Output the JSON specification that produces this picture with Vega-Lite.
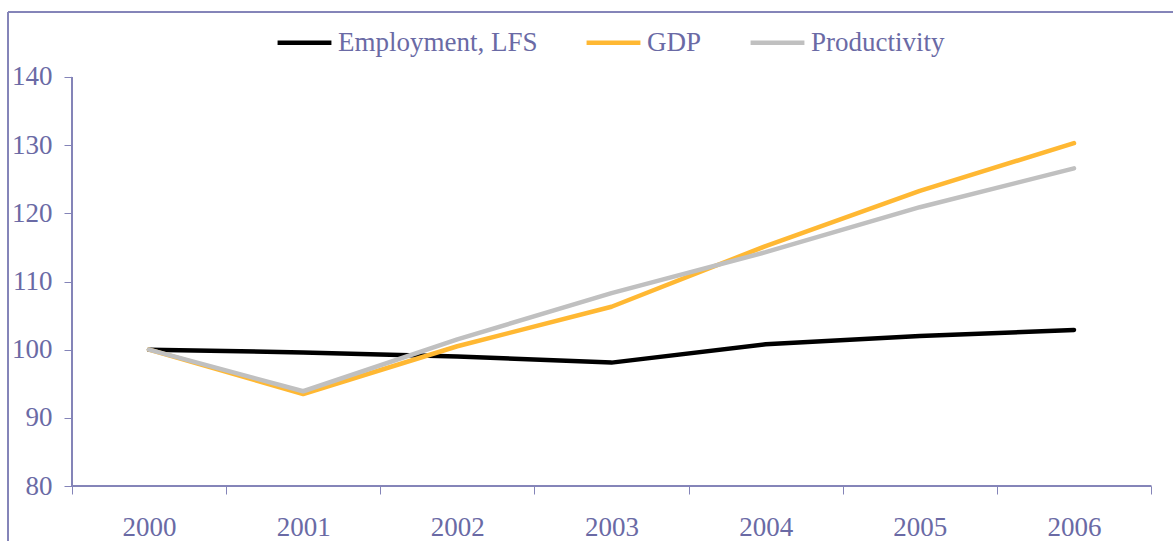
{
  "$schema": "https://vega.github.io/schema/vega-lite/v6.json",
  "width": 1165,
  "height": 529,
  "autosize": {"type": "none"},
  "padding": {"left": 8, "top": 12, "right": 0, "bottom": 0},
  "background": "white",
  "config": {
    "view": {"stroke": null},
    "font": "Liberation Serif",
    "axis": {"grid": false, "title": null}
  },
  "data": {
    "values": [
      {"year": 2000, "series": "Employment, LFS", "value": 100},
      {"year": 2001, "series": "Employment, LFS", "value": 99.6},
      {"year": 2002, "series": "Employment, LFS", "value": 99.0},
      {"year": 2003, "series": "Employment, LFS", "value": 98.1},
      {"year": 2004, "series": "Employment, LFS", "value": 100.8},
      {"year": 2005, "series": "Employment, LFS", "value": 102.0},
      {"year": 2006, "series": "Employment, LFS", "value": 102.9},
      {"year": 2000, "series": "GDP", "value": 100},
      {"year": 2001, "series": "GDP", "value": 93.5},
      {"year": 2002, "series": "GDP", "value": 100.5},
      {"year": 2003, "series": "GDP", "value": 106.3},
      {"year": 2004, "series": "GDP", "value": 115.2},
      {"year": 2005, "series": "GDP", "value": 123.3},
      {"year": 2006, "series": "GDP", "value": 130.3},
      {"year": 2000, "series": "Productivity", "value": 100},
      {"year": 2001, "series": "Productivity", "value": 93.9},
      {"year": 2002, "series": "Productivity", "value": 101.5},
      {"year": 2003, "series": "Productivity", "value": 108.3},
      {"year": 2004, "series": "Productivity", "value": 114.3},
      {"year": 2005, "series": "Productivity", "value": 120.9},
      {"year": 2006, "series": "Productivity", "value": 126.6}
    ]
  },
  "layer": [
    {
      "mark": {"type": "line", "strokeWidth": 4.5, "strokeCap": "round", "strokeJoin": "round"},
      "encoding": {
        "x": {
          "field": "year", "type": "quantitative",
          "scale": {"domain": [1999.0854, 2006.6422], "nice": false, "zero": false},
          "axis": {
            "orient": "bottom", "offset": -55,
            "values": [1999.5, 2000.5, 2001.5, 2002.5, 2003.5, 2004.5, 2005.5, 2006.5],
            "labelExpr": "datum.value < 2006 ? toString(datum.value + 0.5) : ''",
            "labelOffset": 77.08, "labelFlush": false, "labelOverlap": false,
            "domain": false, "tickSize": 8, "tickColor": "#8484b8", "tickWidth": 1,
            "labelFontSize": 27, "labelColor": "#6a6aa5", "labelFont": "Liberation Serif",
            "labelPadding": 20, "grid": false, "title": null
          }
        },
        "y": {
          "field": "value", "type": "quantitative",
          "scale": {"domain": [71.932, 149.535], "nice": false, "zero": false},
          "axis": {
            "orient": "left", "offset": -64,
            "values": [80, 90, 100, 110, 120, 130, 140],
            "domain": false, "tickSize": 8, "tickColor": "#8484b8", "tickWidth": 1,
            "labelFontSize": 27, "labelColor": "#6a6aa5", "labelFont": "Liberation Serif",
            "labelPadding": 12, "labelFlush": false, "labelOverlap": false,
            "grid": false, "title": null
          }
        },
        "color": {
          "field": "series", "type": "nominal",
          "scale": {"domain": ["Employment, LFS", "GDP", "Productivity"], "range": ["#000000", "#FFB833", "#C0C0C0"]},
          "legend": {
            "title": null, "orient": "none", "direction": "horizontal",
            "legendX": 267, "legendY": 1, "padding": 0,
            "symbolType": "stroke", "symbolSize": 2900, "symbolStrokeWidth": 4.5,
            "labelFontSize": 27, "labelFont": "Liberation Serif", "labelColor": "#6a6aa5",
            "labelLimit": 400, "labelOffset": 4, "columnPadding": 39
          }
        }
      }
    },
    {
      "mark": {"type": "rule", "color": "#8484b8", "strokeWidth": 1},
      "encoding": {
        "y": {"datum": 149.535, "type": "quantitative", "scale": {"domain": [71.932, 149.535], "nice": false, "zero": false}, "axis": {"title": null}}
      }
    },
    {
      "mark": {"type": "rule", "color": "#8484b8", "strokeWidth": 1},
      "encoding": {
        "x": {"datum": 1999.0854, "type": "quantitative", "scale": {"domain": [1999.0854, 2006.6422], "nice": false, "zero": false}, "axis": {"title": null}}
      }
    },
    {
      "mark": {"type": "rule", "color": "#8484b8", "strokeWidth": 1},
      "encoding": {
        "x": {"datum": 1999.5, "type": "quantitative", "scale": {"domain": [1999.0854, 2006.6422], "nice": false, "zero": false}, "axis": {"title": null}},
        "y": {"datum": 80, "type": "quantitative", "scale": {"domain": [71.932, 149.535], "nice": false, "zero": false}, "axis": {"title": null}},
        "y2": {"datum": 140}
      }
    },
    {
      "mark": {"type": "rule", "color": "#8484b8", "strokeWidth": 1},
      "encoding": {
        "x": {"datum": 1999.5, "type": "quantitative", "scale": {"domain": [1999.0854, 2006.6422], "nice": false, "zero": false}, "axis": {"title": null}},
        "x2": {"datum": 2006.5},
        "y": {"datum": 80, "type": "quantitative", "scale": {"domain": [71.932, 149.535], "nice": false, "zero": false}, "axis": {"title": null}}
      }
    }
  ]
}
